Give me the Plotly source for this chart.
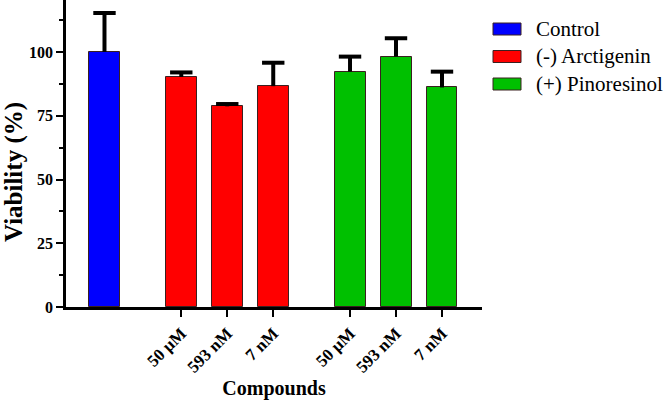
import plotly.graph_objects as go

# data
groups = ["Control", "(-) Arctigenin", "(+) Pinoresinol"]
colors = ["#0000FF", "#FF0000", "#00C000"]
doses = ["50 μM", "593 nM", "7 nM"]

control_mean = [100.0]
control_err = [15.3]
arctigenin_mean = [90.2, 78.7, 86.6]
arctigenin_err = [1.8, 0.9, 9.2]
pinoresinol_mean = [92.3, 98.2, 86.1]
pinoresinol_err = [5.9, 7.2, 6.2]

# layout: bar slots, with a wider gap between the groups
GROUP_GAP = 1.67
BAR_W = 0.674

x_control = [0]
x_arct = [GROUP_GAP + i for i in range(3)]
x_pino = [2 * GROUP_GAP + 2 + i for i in range(3)]

font = "Liberation Serif"

fig = go.Figure()
series = [
    (x_control, control_mean, control_err),
    (x_arct, arctigenin_mean, arctigenin_err),
    (x_pino, pinoresinol_mean, pinoresinol_err),
]
for name, color, (xs, ys, es) in zip(groups, colors, series):
    fig.add_trace(go.Bar(
        x=xs, y=ys, name=name, width=BAR_W,
        marker=dict(color=color, line=dict(color="#3a2020", width=1)),
        showlegend=False,
    ))

# upper-only error bars (stem + cap), plotly's own ones also draw a lower cap
for xs, ys, es in series:
    sx, sy = [], []
    for x, y, e in zip(xs, ys, es):
        sx += [x, x, None]
        sy += [y, y + e, None]
    fig.add_trace(go.Scatter(x=sx, y=sy, mode="lines",
                             line=dict(color="black", width=4),
                             showlegend=False, hoverinfo="skip"))
    fig.add_trace(go.Scatter(x=xs, y=[y + e for y, e in zip(ys, es)], mode="markers",
                             marker=dict(symbol="line-ew-open", size=16, color="black",
                                         line=dict(color="black", width=4)),
                             showlegend=False, hoverinfo="skip"))

# legend drawn by hand to get the wide swatches
L0, LW = 66, 416
for i, (name, color) in enumerate(zip(groups, colors)):
    cy = 29 + i * 27.5
    fig.add_shape(type="rect", xref="paper", yref="paper",
                  x0=(493 - L0) / LW, x1=(521 - L0) / LW,
                  y0=(307 - cy - 6) / 307, y1=(307 - cy + 6) / 307,
                  fillcolor=color, line=dict(color="#3a2020", width=1))
    fig.add_annotation(xref="paper", yref="paper", x=(534 - L0) / LW,
                       y=(307 - cy) / 307, text=name, showarrow=False,
                       xanchor="left", yanchor="middle",
                       font=dict(family=font, size=21, color="black"))

# y title sits a bit below the middle of the axis in the reference
fig.add_annotation(xref="paper", yref="paper", x=(14 - L0) / LW, y=(307 - 172) / 307,
                   text="<b>Viability (%)</b>", textangle=-90, showarrow=False,
                   xanchor="center", yanchor="middle",
                   font=dict(family=font, size=25, color="black"))

fig.update_layout(
    width=666, height=407,
    margin=dict(l=66, r=184, t=0, b=100),
    paper_bgcolor="white", plot_bgcolor="white",
    bargap=0,
    font=dict(family=font, color="black"),
)
fig.update_xaxes(
    range=[-0.837, 8.21],
    tickvals=x_arct + x_pino, ticktext=doses + doses,
    tickangle=-45, ticks="outside", ticklen=7, tickwidth=2, tickcolor="black",
    tickfont=dict(family=font, size=17, color="black", weight="bold"),
    showline=True, linecolor="black", linewidth=2.5,
    showgrid=False, zeroline=False,
    title=dict(text="<b>Compounds</b>", font=dict(family=font, size=20), standoff=6),
)
fig.update_yaxes(
    range=[0, 120.4],
    tickvals=[0, 25, 50, 75, 100],
    ticks="outside", ticklen=7, tickwidth=2, tickcolor="black",
    minor=dict(tickvals=[12.5, 37.5, 62.5, 87.5, 112.5], ticks="outside",
               ticklen=4, tickwidth=2, tickcolor="black"),
    tickfont=dict(family=font, size=16, color="black", weight="bold"),
    showline=True, linecolor="black", linewidth=2.5,
    showgrid=False, zeroline=False,
)

fig.write_html("out.html", config={"displayModeBar": False},
               post_script="document.body.style.margin='0';")
